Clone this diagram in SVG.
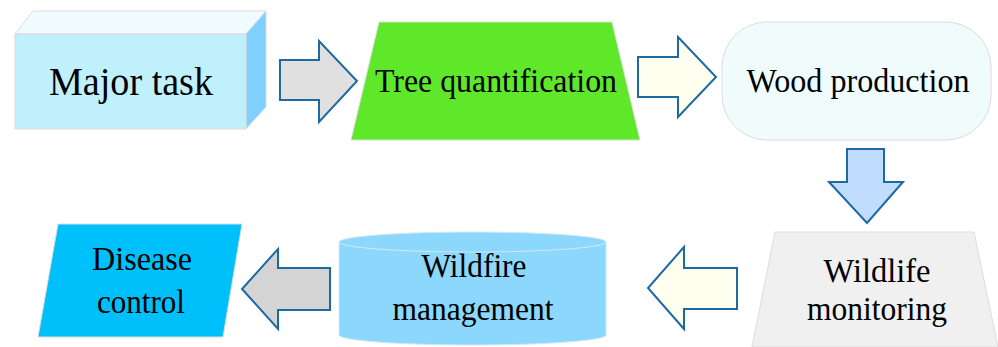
<svg xmlns="http://www.w3.org/2000/svg" width="998" height="347" viewBox="0 0 998 347">
<style>
.t{font-family:"Liberation Serif","Times New Roman",serif;fill:#000;text-anchor:middle}
.edge{stroke:#dcdcdc;stroke-width:1}
.arr{stroke:#1b6aa2;stroke-width:2;stroke-linejoin:miter}
</style>
<rect width="998" height="347" fill="#fff"/>
<g id="major-task">
<polygon class="edge" points="15,34 33,11 266,11 246,34" fill="#f0fcfd"/>
<polygon class="edge" points="246,34 266,11 266,107 246,129" fill="#80d0ff"/>
<rect class="edge" x="15" y="34" width="231" height="95" fill="#c0f0fc"/>
<text class="t" x="131" y="95" font-size="41" textLength="164" lengthAdjust="spacingAndGlyphs">Major task</text>
</g>
<g id="tree-quantification">
<polygon class="edge" points="379,22 612,22 640,140 351,140" fill="#5fe82a"/>
<text class="t" x="496" y="92" font-size="33" textLength="242" lengthAdjust="spacingAndGlyphs">Tree quantification</text>
</g>
<g id="wood-production">
<rect class="edge" x="722" y="22" width="269" height="118" rx="45" ry="45" fill="#f0fcfc"/>
<text class="t" x="858" y="92" font-size="34" textLength="223" lengthAdjust="spacingAndGlyphs">Wood production</text>
</g>
<g id="wildlife-monitoring">
<polygon class="edge" points="775,232 974,232 998,347 752,347" fill="#f0f0f0"/>
<text class="t" x="877" y="282" font-size="33" textLength="107" lengthAdjust="spacingAndGlyphs">Wildlife</text>
<text class="t" x="877" y="320" font-size="33" textLength="140" lengthAdjust="spacingAndGlyphs">monitoring</text>
</g>
<g id="wildfire-management">
<path d="M339,242 L339,335 A133.5,10 0 0 0 606,335 L606,242 Z" fill="#8cd8fc" stroke="#d0e8f4" stroke-width="1"/>
<ellipse cx="472.5" cy="242" rx="133.5" ry="10" fill="#8cd8fc" stroke="#d0e8f4" stroke-width="1"/>
<text class="t" x="474" y="277" font-size="33" textLength="105" lengthAdjust="spacingAndGlyphs">Wildfire</text>
<text class="t" x="473" y="320" font-size="33" textLength="161" lengthAdjust="spacingAndGlyphs">management</text>
</g>
<g id="disease-control">
<polygon class="edge" points="58,224 242,224 223,337 38,337" fill="#00c0fc"/>
<text class="t" x="142" y="270" font-size="33" textLength="100" lengthAdjust="spacingAndGlyphs">Disease</text>
<text class="t" x="141" y="313" font-size="33" textLength="88" lengthAdjust="spacingAndGlyphs">control</text>
</g>
<g id="connectors">
<polygon class="arr" points="280,60 319,60 319,41 357,81 319,122 319,100 280,100" fill="#e0e0e0"/>
<polygon class="arr" points="638,57 678,57 678,37 716,77 678,117 678,97 638,97" fill="#fffff0"/>
<polygon class="arr" points="847,149 884,149 884,182 903,182 867,223 829,182 847,182" fill="#c0dcff"/>
<polygon class="arr" points="737,268 684,268 684,247 648,288 684,329 684,309 737,309" fill="#fffff0"/>
<polygon class="arr" points="330,268 278,268 278,249 242,289 278,329 278,310 330,310" fill="#d4d4d4"/>
</g>
</svg>
